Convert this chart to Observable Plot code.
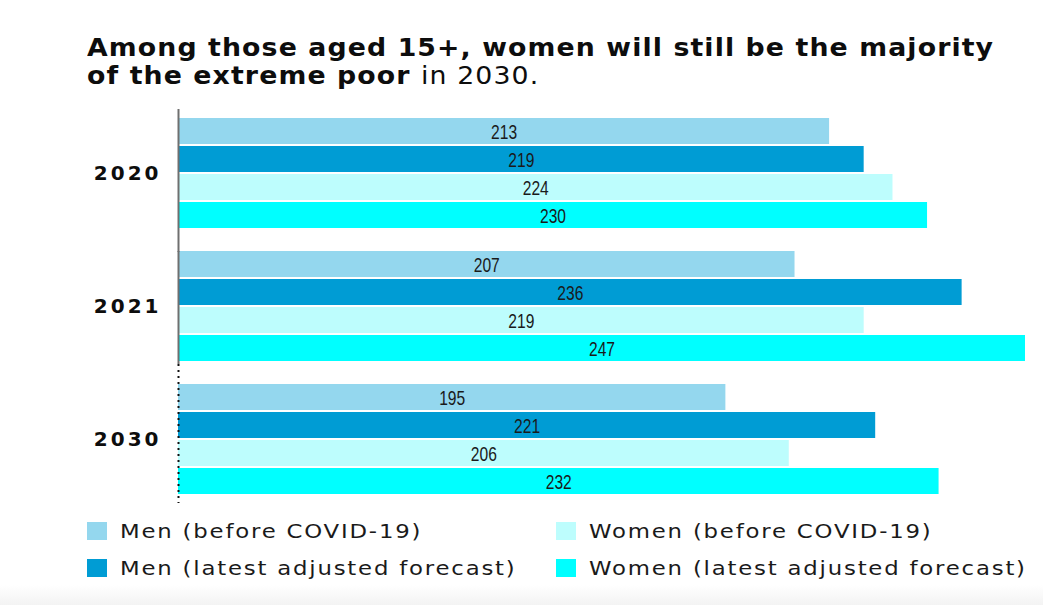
<!DOCTYPE html>
<html>
<head>
<meta charset="utf-8">
<script src="https://cdn.jsdelivr.net/npm/d3@7"></script>
<script src="https://cdn.jsdelivr.net/npm/@observablehq/plot@0.6"></script>
<style>
  html, body { margin: 0; padding: 0; background: #fff; }
  body { width: 1043px; height: 605px; position: relative; overflow: hidden; }
  #title { position: absolute; left: 87px; top: 34px; font-family: "DejaVu Sans", sans-serif; font-weight: bold; font-size: 24px; line-height: 28px; color: #0d0d0d; letter-spacing: 1px; white-space: nowrap; transform: scaleX(1.114); transform-origin: 0 0; }
  #title .light { font-weight: normal; }
  #chart { position: absolute; left: 0; top: 105px; }
  #legend { position: absolute; left: 87px; top: 521px; display: grid; grid-template-columns: 469px auto; grid-auto-flow: column; grid-template-rows: 37px 37px; font-family: "DejaVu Sans", sans-serif; font-size: 19px; color: #1a1a1a; }
  .item { display: flex; align-items: center; height: 20px; }
  .sw { width: 20px; height: 18px; margin-right: 13px; flex: none; }
  .lab { display: inline-block; letter-spacing: 1.5px; transform: scaleX(1.2); transform-origin: 0 50%; white-space: nowrap; }
  #shade { position: absolute; left: 0; top: 585px; width: 1043px; height: 20px; background: linear-gradient(#ffffff, #f3f3f3); }
</style>
</head>
<body>
<div id="shade"></div>
<div id="title">Among those aged 15+, women will still be the majority<br>of the extreme poor <span class="light">in 2030.</span></div>
<div id="chart"></div>
<div id="legend"></div>
<script>
const years = ["2020", "2021", "2030"];
const series = [
  "Men (before COVID-19)",
  "Men (latest adjusted forecast)",
  "Women (before COVID-19)",
  "Women (latest adjusted forecast)"
];
const menBefore = [213, 207, 195];
const menLatest = [219, 236, 221];
const womenBefore = [224, 219, 206];
const womenLatest = [230, 247, 232];
const colors = ["#94d7ee", "#009cd4", "#bdfdfd", "#00ffff"];
const baseline = 100;
const xMax = 247;

const valuesBySeries = [menBefore, menLatest, womenBefore, womenLatest];
const rows = [];
years.forEach((year, i) => {
  series.forEach((s, j) => {
    rows.push({year, series: s, value: valuesBySeries[j][i]});
  });
});
const axisRows = years.map(year => ({year}));

const chart = Plot.plot({
  width: 1043,
  height: 400,
  marginLeft: 178,
  marginRight: 18,
  marginTop: 13,
  marginBottom: 10,
  style: {fontFamily: "DejaVu Sans, sans-serif", fontSize: "20px", fontWeight: "bold", color: "#0d0d0d", background: "transparent"},
  x: {domain: [baseline, xMax], axis: null},
  y: {domain: series, axis: null, paddingInner: 0.07, paddingOuter: 0},
  fy: {domain: years, paddingInner: 22 / 132, paddingOuter: 0, label: null, tickSize: 0, tickPadding: 17},
  color: {domain: series, range: colors},
  marks: [
    Plot.barX(rows, {fy: "year", y: "series", x1: baseline, x2: "value", fill: "series"}),
    Plot.text(rows, {
      fy: "year", y: "series",
      x: d => (baseline + d.value) / 2,
      text: d => String(d.value),
      fill: "#1a1a1a",
      fontFamily: "'Liberation Sans', Arial, sans-serif",
      fontSize: 20,
      fontWeight: "normal",
      dy: 1
    }),
    Plot.ruleX(axisRows.filter(d => d.year === "2020"), {fy: "year", x: baseline, stroke: "#6f6f6f", strokeWidth: 2, insetTop: -9, insetBottom: -23}),
    Plot.ruleX(axisRows.filter(d => d.year === "2021"), {fy: "year", x: baseline, stroke: "#6f6f6f", strokeWidth: 2, insetBottom: -2}),
    Plot.ruleX(axisRows.filter(d => d.year === "2030"), {fy: "year", x: baseline, stroke: "#111", strokeWidth: 2, strokeDasharray: "2,4", insetTop: -20, insetBottom: -8})
  ]
});
document.getElementById("chart").appendChild(chart);

// year labels: wider, spaced lettering
d3.select(chart).selectAll("[aria-label='fy-axis'] text, [aria-label='fy-axis tick label'] text").style("letter-spacing", "3px");

// value labels: narrow lettering (horizontal squeeze around each label's own anchor)
d3.select(chart).selectAll("g[aria-label='text'] text").each(function () {
  const t = this.getAttribute("transform");
  if (t) {
    this.setAttribute("transform", t + " scale(0.78,1)");
  } else {
    const x = +this.getAttribute("x") || 0;
    this.setAttribute("transform", `translate(${x},0) scale(0.78,1) translate(${-x},0)`);
  }
});

const legend = document.getElementById("legend");
series.forEach((s, i) => {
  const item = document.createElement("div");
  item.className = "item";
  const sw = document.createElement("span");
  sw.className = "sw";
  sw.style.background = colors[i];
  const label = document.createElement("span");
  label.className = "lab";
  label.textContent = s;
  item.appendChild(sw);
  item.appendChild(label);
  legend.appendChild(item);
});
</script>
</body>
</html>
